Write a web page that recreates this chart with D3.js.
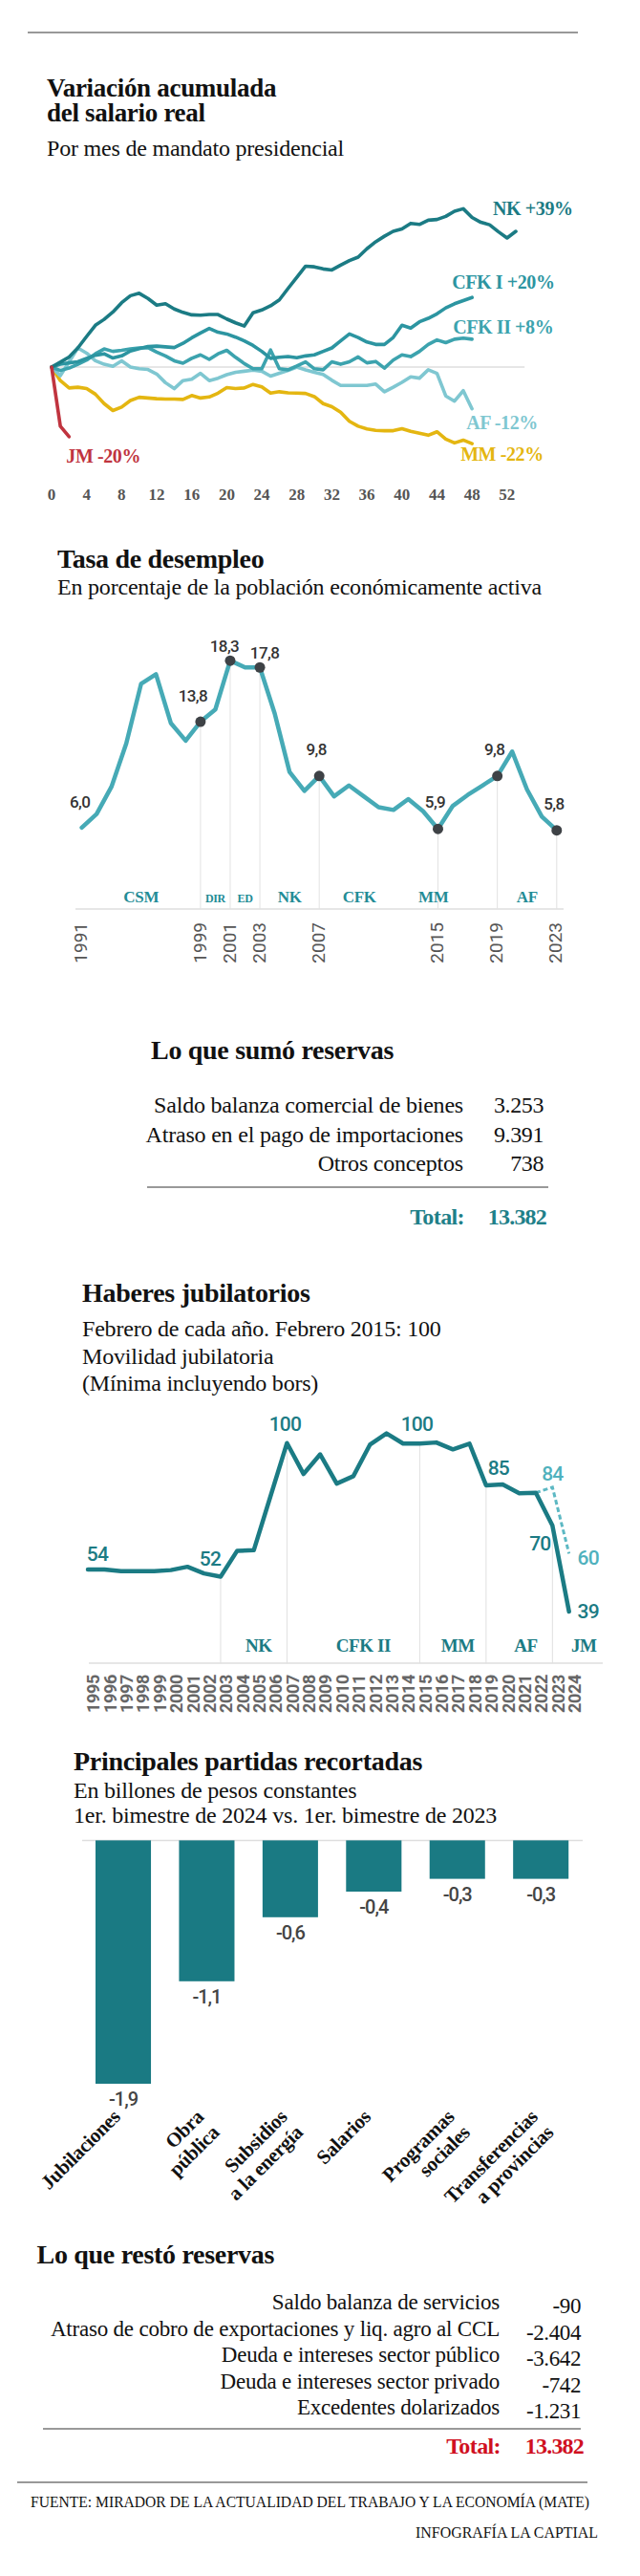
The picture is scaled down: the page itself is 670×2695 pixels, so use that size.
<!DOCTYPE html>
<html>
<head>
<meta charset="utf-8">
<script src="https://d3js.org/d3.v7.min.js"></script>
<style>
  body { margin: 0; background: #fff; }
  svg { display: block; }
</style>
</head>
<body>
<script>
// ---------- datos ----------
// Variación acumulada del salario real, por mes de mandato (%)
var nkSalario = [0, 1.4, 2.9, 5.5, 8.8, 12, 13.7, 15.8, 18.5, 20.5, 21.2, 19.7, 17.8, 18.2, 16.7, 15.7, 15, 14.9, 15.1, 15.1,
  13.8, 12.7, 11.8, 15.6, 16.4, 17.6, 19.3, 22.6, 25.8, 29, 28.8, 28.2, 27.9, 29.3, 30.6, 31.6, 34, 36, 37.6, 39,
  39.7, 41.3, 41, 42.2, 42.4, 43.3, 44.8, 45.5, 43, 41.6, 40.9, 38.9, 37.1, 39];
var cfk1Salario = [0, 0.8, 1.2, 1.5, 2.5, 3.4, 3.8, 2.6, 3.2, 4.6, 5.3, 5.9, 6, 5.8, 5.6, 6.8, 8.4, 9.8, 11.1, 10,
  9.5, 8.6, 7.5, 6.2, 4.5, 2.5, 2.8, 3, 2.7, 3.2, 3.5, 4.5, 5.5, 7.5, 9.5, 8.5, 7.2, 6.5, 6.5, 8.5,
  12, 11.2, 13, 14, 15.3, 17, 18.2, 19.1, 20];
var cfk2Salario = [0, -1, -0.3, 0.8, 2, 3.8, 5.2, 4.5, 4.8, 5.2, 5.5, 5.6, 4.3, 3.2, 1.8, 1.1, 2.5, 3.5, 2.2, 3.8,
  4.8, 2.8, 1, -0.5, -0.5, 4.9, -0.5, -0.8, 0.3, 1.5, -0.5, -0.8, 1.5, 0.8, 1.5, 2.9, 1.2, 1.6, -0.3, 2,
  3.5, 3, 4.5, 6.5, 7.8, 7, 8, 8.3, 8];
var afSalario = [0, -2.5, 1.5, 5.5, 4, 1.8, 0.8, 0.2, 1.8, 0, -0.5, -0.7, -2, -4.5, -6.2, -3.9, -3.5, -1.8, -3.9, -3.2,
  -2.2, -1.5, -1.2, -0.9, -1.2, -2.6, -1.8, -1, 0, -0.8, -1.5, -2.1, -3.8, -5.3, -5.3, -5.3, -5.3, -4.9, -7.1, -5.8,
  -4.4, -2.8, -3.2, -0.8, -1.8, -8.3, -9.8, -6.8, -12];
var mmSalario = [0, -3.9, -6, -5.8, -6.2, -7.8, -10.5, -12.5, -11.5, -9.6, -8.7, -8.9, -9.1, -9.2, -9.2, -9.3, -8.2, -8.9, -8.6, -7.5,
  -5.9, -6.2, -6, -5, -5.7, -7.5, -7.1, -7.4, -7.5, -7.6, -8.5, -10.5, -11.4, -13, -15.6, -17, -17.8, -18.2, -18.3, -18.3,
  -17.7, -18.5, -19, -19.6, -18.6, -20.7, -21.8, -21, -22];
var jmSalario = [0, -17, -20];
var salarioEtiquetas = ["MM -22%", "AF -12%", "CFK II +8%", "CFK I +20%", "NK +39%", "JM -20%"];
var salarioTicks = [0, 4, 8, 12, 16, 20, 24, 28, 32, 36, 40, 44, 48, 52];

// Tasa de desempleo (% de la PEA)
var desempleoAnios = [1991, 1992, 1993, 1994, 1995, 1996, 1997, 1998, 1999, 2000, 2001, 2002, 2003, 2004, 2005, 2006,
  2007, 2008, 2009, 2010, 2011, 2012, 2013, 2014, 2015, 2016, 2017, 2018, 2019, 2020, 2021, 2022, 2023];
var desempleoValores = [6.0, 7.0, 9.0, 12.2, 16.6, 17.3, 13.7, 12.4, 13.8, 14.7, 18.3, 17.8, 17.8, 14.4, 10.1, 8.7,
  9.8, 8.3, 9.1, 8.3, 7.5, 7.3, 8.1, 7.2, 5.9, 7.6, 8.4, 9.1, 9.8, 11.6, 8.8, 6.8, 5.8];
var desempleoMarcados = [1999, 2001, 2003, 2007, 2015, 2019, 2023];
var desempleoRotulados = [1991, 1999, 2001, 2003, 2007, 2015, 2019, 2023];
var desempleoPeriodos = ["CSM", "DIR", "ED", "NK", "CFK", "MM", "AF"];
var desempleoPeriodosAnio = [1995, 2000, 2002, 2005, 2009.7, 2014.7, 2021];

// Lo que sumó reservas
var sumoConceptos = ["Saldo balanza comercial de bienes", "Atraso en el pago de importaciones", "Otros conceptos"];
var sumoValores = [3253, 9391, 738];
var sumoTotal = 13382;

// Haberes jubilatorios (febrero 2015 = 100)
var haberesAnios = [1995, 1996, 1997, 1998, 1999, 2000, 2001, 2002, 2003, 2004, 2005, 2006, 2007, 2008, 2009,
  2010, 2011, 2012, 2013, 2014, 2015, 2016, 2017, 2018, 2019, 2020, 2021, 2022, 2023, 2024];
var haberesValores = [54.2, 54.2, 53.6, 53.6, 53.6, 54, 55.2, 52.8, 51.6, 61, 61.2, 80.6, 100, 88.8, 95.9,
  85.3, 88, 99.4, 103.5, 99.8, 99.8, 100.2, 97.7, 99.8, 84.7, 85, 81.8, 82, 70.1, 39];
var movilidadAnios = [2022, 2023, 2024];
var movilidadValores = [82, 84, 60];
var haberesCortes = [2003, 2007, 2015, 2019, 2023];
var haberesPeriodos = ["NK", "CFK II", "MM", "AF", "JM"];
var haberesPeriodosAnio = [2005.3, 2011.6, 2017.3, 2021.4, 2024.9];
var haberesRotAnios = [1995, 2003, 2007, 2015, 2019, 2023, 2023, 2024, 2024];
var haberesRotSerie = ["h", "h", "h", "h", "h", "m", "h", "m", "h"];

// Principales partidas recortadas (billones de pesos constantes)
var partidas = ["Jubilaciones", "Obra pública", "Subsidios a la energía", "Salarios", "Programas sociales", "Transferencias a provincias"];
var partidasLineas = [["Jubilaciones"], ["Obra", "pública"], ["Subsidios", "a la energía"], ["Salarios"], ["Programas", "sociales"], ["Transferencias", "a provincias"]];
var partidasValores = [-1.9, -1.1, -0.6, -0.4, -0.3, -0.3];

// Lo que restó reservas
var restoConceptos = ["Saldo balanza de servicios", "Atraso de cobro de exportaciones y liq. agro al CCL",
  "Deuda e intereses sector público", "Deuda e intereses sector privado", "Excedentes dolarizados"];
var restoValores = [-90, -2404, -3642, -742, -1231];
var restoTotal = 13382;

// ---------- estilos ----------
var SERIF = "'Liberation Serif', 'Times New Roman', serif";
var SANS = "Roboto, 'Liberation Sans', Arial, sans-serif";
var TEAL = "#1b7b84";
var GRIS = "#555";
var loc = d3.formatLocale({ decimal: ",", thousands: ".", grouping: [3], currency: ["$", ""], minus: "-" });
var f1 = loc.format(".1f"), fMiles = loc.format(",d"), f0 = loc.format(".0f");

var svg = d3.select("body").append("svg").attr("width", 670).attr("height", 2695);
svg.append("rect").attr("width", 670).attr("height", 2695).attr("fill", "#fff");

function texto(x, y, s, size, opts) {
  opts = opts || {};
  return svg.append("text")
    .attr("x", x).attr("y", y)
    .attr("font-family", opts.family || SERIF)
    .attr("font-size", size)
    .attr("font-weight", opts.weight || 400)
    .attr("fill", opts.fill || "#111")
    .attr("text-anchor", opts.anchor || "start")
    .attr("letter-spacing", opts.ls || 0)
    .text(s);
}
function linea(x1, x2, y1, y2, color, w) {
  return svg.append("line").attr("x1", x1).attr("x2", x2).attr("y1", y1).attr("y2", y2)
    .attr("stroke", color).attr("stroke-width", w);
}

// filete superior
linea(29, 605, 34, 34, "#777", 1.5);

// ================= 1. Salario real =================
texto(49, 101, "Variación acumulada", 27, { weight: 700, ls: -0.3 });
texto(49, 127, "del salario real", 27, { weight: 700, ls: -0.3 });
texto(49, 163, "Por mes de mandato presidencial", 24, { ls: -0.2 });

var x1 = d3.scaleLinear().domain([0, 53]).range([54, 540]);
var y1 = d3.scaleLinear().domain([-25, 50]).range([475, 202]);

linea(x1(0), x1(54), y1(0), y1(0), "#dedede", 1.5);

var salarioSeries = [mmSalario, afSalario, cfk2Salario, cfk1Salario, nkSalario, jmSalario];
var salarioColores = ["#e4b611", "#7fc7d1", "#3ca3ae", "#2c95a1", "#1b7b84", "#c0343f"];
var salarioLabelOff = [[-12, 18], [-6, 21], [-20, -6], [-21, -9], [-24, -17], [-3, 27]];

var lineaSal = d3.line().x(function(d, i) { return x1(i); }).y(function(d) { return y1(d); });
salarioSeries.forEach(function(serie, k) {
  svg.append("path").datum(serie)
    .attr("d", lineaSal)
    .attr("fill", "none")
    .attr("stroke", salarioColores[k])
    .attr("stroke-width", 3.6)
    .attr("stroke-linejoin", "round")
    .attr("stroke-linecap", "round");
});
salarioSeries.forEach(function(serie, k) {
  var last = serie.length - 1;
  texto(x1(last) + salarioLabelOff[k][0], y1(serie[last]) + salarioLabelOff[k][1], salarioEtiquetas[k], 20,
    { weight: 700, fill: salarioColores[k], ls: -0.4 });
});
salarioTicks.forEach(function(t) {
  texto(x1(t), 523, t, 17, { weight: 700, fill: GRIS, anchor: "middle" });
});

// ================= 2. Desempleo =================
texto(60, 594, "Tasa de desempleo", 28, { weight: 700, ls: -0.3 });
texto(60, 622, "En porcentaje de la población económicamente activa", 24, { ls: -0.2 });

var x2 = d3.scaleLinear().domain([1991, 2023]).range([85.6, 582.8]);
var y2 = d3.scaleLinear().domain([0, 20]).range([951, 667]);
var desempleo = desempleoAnios.map(function(a, i) { return { anio: a, v: desempleoValores[i] }; });
var porAnio = {};
desempleo.forEach(function(d) { porAnio[d.anio] = d.v; });

linea(79, 590, 951, 951, "#dedede", 1.5);
desempleoMarcados.forEach(function(a) {
  linea(x2(a), x2(a), y2(porAnio[a]), 951, "#e2e2e2", 1);
});
svg.append("path").datum(desempleo)
  .attr("d", d3.line().x(function(d) { return x2(d.anio); }).y(function(d) { return y2(d.v); }))
  .attr("fill", "none").attr("stroke", "#46aab6").attr("stroke-width", 4.5)
  .attr("stroke-linejoin", "round").attr("stroke-linecap", "round");
svg.selectAll(".dot2").data(desempleoMarcados).enter().append("circle")
  .attr("cx", function(a) { return x2(a); })
  .attr("cy", function(a) { return y2(porAnio[a]); })
  .attr("r", 5.5).attr("fill", "#3e4246");

var rotOff2 = { 1991: [-2, -21], 1999: [-8, -21], 2001: [-6, -9], 2003: [5, -9] };
desempleoRotulados.forEach(function(a) {
  var o = rotOff2[a] || [-3, -22];
  texto(x2(a) + o[0], y2(porAnio[a]) + o[1], f1(porAnio[a]), 17,
    { family: SANS, weight: 500, fill: "#333", anchor: "middle", ls: -0.6 });
});
desempleoPeriodos.forEach(function(p, i) {
  var chico = (p === "DIR" || p === "ED");
  texto(x2(desempleoPeriodosAnio[i]), 944, p, chico ? 12 : 17,
    { weight: 700, fill: "#238c96", anchor: "middle", ls: -0.3 });
});
desempleoRotulados.forEach(function(a) {
  svg.append("text")
    .attr("transform", "translate(" + (x2(a) - 1) + ",965) rotate(-90)")
    .attr("text-anchor", "end").attr("dy", "0.35em")
    .attr("font-family", SANS).attr("font-size", 19).attr("fill", GRIS)
    .text(a);
});

// ================= 3. Lo que sumó reservas =================
function tabla(conceptos, valores, total, o) {
  texto(o.tx, o.ty, o.titulo, 28, { weight: 700, ls: -0.3 });
  conceptos.forEach(function(c, i) {
    var y = o.y0 + i * o.step;
    texto(o.labelR, y, c, o.size, { anchor: "end", ls: -0.2 });
    texto(o.valueR, y + o.vdy, fMiles(valores[i]), o.size, { anchor: "end", ls: -0.4 });
  });
  linea(o.rx1, o.rx2, o.ry, o.ry, "#777", 1.5);
  texto(o.labelR + 1, o.totY, "Total:", 24, { anchor: "end", weight: 700, fill: o.totColor, ls: -0.6 });
  texto(o.valueR + 3, o.totY, fMiles(total), 24, { anchor: "end", weight: 700, fill: o.totColor, ls: -0.8 });
}
tabla(sumoConceptos, sumoValores, sumoTotal, {
  titulo: "Lo que sumó reservas", tx: 158, ty: 1108,
  labelR: 485, valueR: 569, y0: 1164, step: 30.5, vdy: 0, size: 24,
  rx1: 154, rx2: 574, ry: 1242, totY: 1281, totColor: "#1f8089"
});

// ================= 4. Haberes jubilatorios =================
texto(86, 1362, "Haberes jubilatorios", 28, { weight: 700, ls: -0.3 });
texto(86, 1398, "Febrero de cada año. Febrero 2015: 100", 24, { ls: -0.2 });
texto(86, 1427, "Movilidad jubilatoria", 24, { ls: -0.2 });
texto(86, 1455, "(Mínima incluyendo bors)", 24, { ls: -0.2 });

var x4 = d3.scaleLinear().domain([1995, 2024]).range([92, 595.7]);
var y4 = d3.scaleLinear().domain([20.3, 100]).range([1740, 1509.7]);
var haberes = haberesAnios.map(function(a, i) { return { anio: a, v: haberesValores[i] }; });
var movilidad = movilidadAnios.map(function(a, i) { return { anio: a, v: movilidadValores[i] }; });
var hPor = {}, mPor = {};
haberes.forEach(function(d) { hPor[d.anio] = d.v; });
movilidad.forEach(function(d) { mPor[d.anio] = d.v; });

linea(93, 631, 1740, 1740, "#dedede", 1.5);
haberesCortes.forEach(function(a) {
  linea(x4(a), x4(a), y4(hPor[a]), 1740, "#e0e0e0", 1);
});
var lineaH = d3.line().x(function(d) { return x4(d.anio); }).y(function(d) { return y4(d.v); });
svg.append("path").datum(movilidad).attr("d", lineaH)
  .attr("fill", "none").attr("stroke", "#5cb8c3").attr("stroke-width", 3)
  .attr("stroke-dasharray", "5,3");
svg.append("path").datum(haberes).attr("d", lineaH)
  .attr("fill", "none").attr("stroke", TEAL).attr("stroke-width", 4.5)
  .attr("stroke-linejoin", "round").attr("stroke-linecap", "round");

var rotOff4 = [[10, -9], [-11, -12], [-2, -13], [-3, -13], [13, -11], [0, -7], [-13, 26], [20, 12], [20, 7]];
haberesRotAnios.forEach(function(a, i) {
  var mov = haberesRotSerie[i] === "m";
  var v = mov ? mPor[a] : hPor[a];
  texto(x4(a) + rotOff4[i][0], y4(v) + rotOff4[i][1], f0(v), 21,
    { family: SANS, weight: 500, fill: mov ? "#4fb1bd" : TEAL, anchor: "middle", ls: -0.8 });
});
haberesPeriodos.forEach(function(p, i) {
  texto(x4(haberesPeriodosAnio[i]), 1728, p, 19, { weight: 700, fill: TEAL, anchor: "middle", ls: -0.4 });
});
haberesAnios.forEach(function(a) {
  svg.append("text")
    .attr("transform", "translate(" + (x4(a) + 6) + ",1752) rotate(-90)")
    .attr("text-anchor", "end").attr("dy", "0.35em")
    .attr("font-family", SANS).attr("font-size", 18).attr("font-weight", 700).attr("fill", "#666")
    .attr("letter-spacing", -0.3)
    .text(a);
});

// ================= 5. Partidas recortadas =================
texto(77, 1852, "Principales partidas recortadas", 28, { weight: 700, ls: -0.3 });
texto(77, 1881, "En billones de pesos constantes", 24, { ls: -0.2 });
texto(77, 1907, "1er. bimestre de 2024 vs. 1er. bimestre de 2023", 24, { ls: -0.2 });

var xb = d3.scaleBand().domain(partidas).range([85.3, 609.9]).paddingInner(0.336).paddingOuter(0.168);
var yb = d3.scaleLinear().domain([0, -1.9]).range([1925.4, 2180]);

linea(86, 610, yb(0), yb(0), "#dedede", 1.5);
svg.selectAll(".bar").data(partidas).enter().append("rect")
  .attr("x", function(c) { return xb(c); })
  .attr("y", yb(0))
  .attr("width", xb.bandwidth())
  .attr("height", function(c, i) { return yb(partidasValores[i]) - yb(0); })
  .attr("fill", "#1a7a83");
partidas.forEach(function(c, i) {
  var cx = xb(c) + xb.bandwidth() / 2;
  texto(cx, yb(partidasValores[i]) + 23, f1(partidasValores[i]), 20,
    { family: SANS, weight: 500, fill: "#444", anchor: "middle", ls: -1 });
  var t = svg.append("text")
    .attr("transform", "translate(" + (cx - 2) + ",2216) rotate(-45)")
    .attr("text-anchor", "end")
    .attr("font-family", SERIF).attr("font-size", 21).attr("font-weight", 700).attr("fill", "#111")
    .attr("letter-spacing", -0.3);
  partidasLineas[i].forEach(function(l, j) {
    t.append("tspan").attr("x", 0).attr("dy", j ? "1.1em" : 0).text(l);
  });
});

// ================= 6. Lo que restó reservas =================
tabla(restoConceptos, restoValores, restoTotal, {
  titulo: "Lo que restó reservas", tx: 38.5, ty: 2368,
  labelR: 523, valueR: 608, y0: 2416, step: 27.5, vdy: 4, size: 23,
  rx1: 45, rx2: 608, ry: 2541, totY: 2567, totColor: "#d0101f"
});

// ================= pie =================
linea(18, 615, 2597, 2597, "#777", 1.5);
texto(32, 2623, "FUENTE: MIRADOR DE LA ACTUALIDAD DEL TRABAJO Y LA ECONOMÍA (MATE)", 17, { fill: "#111" })
  .attr("textLength", 585).attr("lengthAdjust", "spacingAndGlyphs");
texto(435, 2655, "INFOGRAFÍA LA CAPTIAL", 17, { fill: "#111" })
  .attr("textLength", 191).attr("lengthAdjust", "spacingAndGlyphs");
</script>
</body>
</html>
